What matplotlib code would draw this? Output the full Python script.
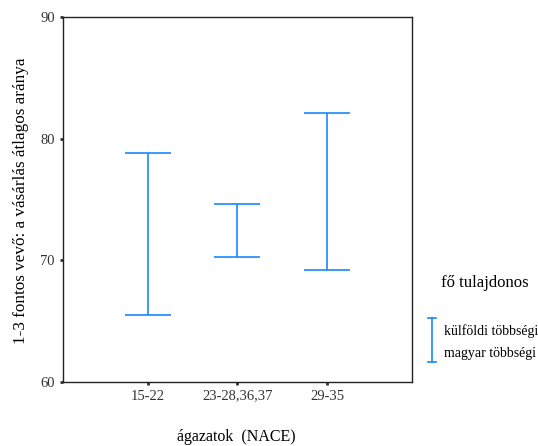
import numpy as np
import matplotlib
matplotlib.use("Agg")
from matplotlib import pyplot as plt
from matplotlib.lines import Line2D

plt.rcParams['font.family'] = ['Liberation Serif', 'DejaVu Serif']

categories = ['15-22', '23-28,36,37', '29-35']
upper = [78.8, 74.6, 82.1]
lower = [65.5, 70.3, 69.2]
mid = [(u + l) / 2 for u, l in zip(upper, lower)]

blue = '#1a88ff'

fig = plt.figure(figsize=(5.38, 4.46), dpi=100)
ax = fig.add_axes([63 / 538, 1 - 382 / 446, (412 - 63) / 538, 365 / 446])

x = np.arange(1, len(categories) + 1)
yerr = [np.array(mid) - np.array(lower), np.array(upper) - np.array(mid)]
ax.errorbar(x, mid, yerr=yerr, fmt='none', ecolor=blue, elinewidth=1.2,
            capsize=16.5, capthick=1.2)

ax.set_xlim(0.05, 3.95)
ax.set_ylim(60, 90)
ax.set_xticks(x)
ax.set_xticklabels(categories)
ax.set_yticks([60, 70, 80, 90])
ax.tick_params(length=2, width=2, labelsize=10.5, colors='#333333', pad=4)
ax.tick_params(axis='x', pad=3.5)
for s in ax.spines.values():
    s.set_linewidth(1.0)
    s.set_color('#222222')

fig.text(21 / 538, 1 - 201 / 446, '1-3 fontos vevő: a vásárlás átlagos aránya',
         rotation=90, ha='center', va='center', fontsize=12.3)
fig.text(236 / 538, 1 - 437 / 446, 'ágazatok  (NACE)', ha='center', va='center',
         fontsize=11.5)

# legend
fig.text(485 / 538, 1 - 283 / 446, 'fő tulajdonos', ha='center', va='center', fontsize=12)
lx = 432 / 538
fig.add_artist(Line2D([lx, lx], [1 - 318 / 446, 1 - 362 / 446], color=blue, lw=1.2))
for yy in (318, 362):
    fig.add_artist(Line2D([lx - 4 / 538, lx + 4 / 538], [1 - yy / 446] * 2, color=blue, lw=1.2))
fig.text(444 / 538, 1 - 331 / 446, 'külföldi többségi', ha='left', va='center', fontsize=10)
fig.text(444 / 538, 1 - 353 / 446, 'magyar többségi', ha='left', va='center', fontsize=10)

fig.savefig('out.png', dpi=100)
